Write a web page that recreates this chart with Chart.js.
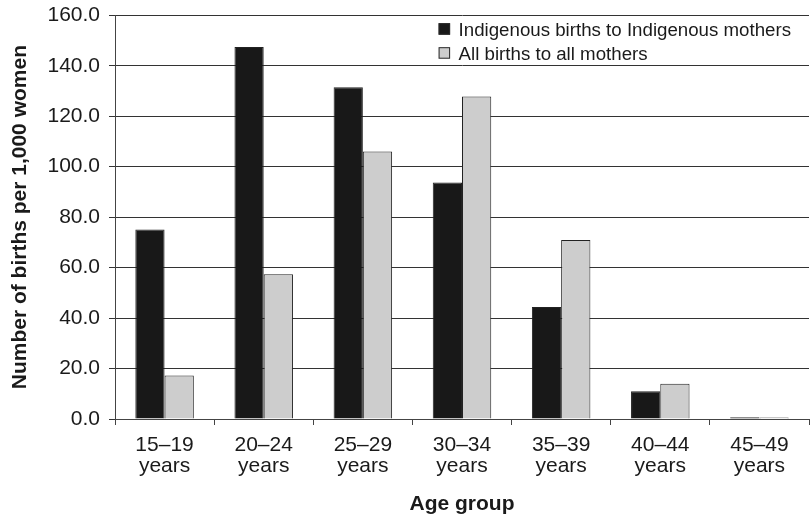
<!DOCTYPE html>
<html>
<head>
<meta charset="utf-8">
<script src="https://cdn.jsdelivr.net/npm/chart.js@4/dist/chart.umd.min.js"></script>
<style>
  html, body { margin: 0; padding: 0; background: #ffffff; }
  #wrap { width: 811px; height: 519px; position: relative; }
</style>
</head>
<body>
<div id="wrap"><canvas id="c" width="811" height="519"></canvas></div>
<script>
// ---- Data ----
const categories = [
  ['15\u201319', 'years'],
  ['20\u201324', 'years'],
  ['25\u201329', 'years'],
  ['30\u201334', 'years'],
  ['35\u201339', 'years'],
  ['40\u201344', 'years'],
  ['45\u201349', 'years']
];
const indigenousLabel = 'Indigenous births to Indigenous mothers';
const allLabel = 'All births to all mothers';
const indigenousRates = [75.1, 147.4, 131.5, 93.7, 44.4, 11.0, 0.7];
const allRates = [17.2, 57.4, 106.0, 127.8, 70.9, 14.0, 0.6];
const yTicks = [0, 20, 40, 60, 80, 100, 120, 140, 160];
const yTitle = 'Number of births per 1,000 women';
const xTitle = 'Age group';

const FONT = '"Liberation Sans", Arial, Helvetica, sans-serif';

const legendPlugin = {
  id: 'insideLegend',
  afterDraw(chart) {
    const ctx = chart.ctx;
    const area = chart.chartArea;
    const x0 = area.left + 323.6;
    const rows = [area.top + 20.4, area.top + 44.4];
    ctx.save();
    ctx.font = '18.7px ' + FONT;
    ctx.textBaseline = 'alphabetic';
    ctx.textAlign = 'left';
    chart.data.datasets.forEach((ds, i) => {
      const base = rows[i];
      ctx.fillStyle = ds.backgroundColor;
      ctx.fillRect(x0, base - 12.5, 11.5, 11.5);
      ctx.strokeStyle = '#2a2a2a';
      ctx.lineWidth = 1;
      ctx.strokeRect(x0 + 0.5, base - 12, 10.5, 10.5);
      ctx.fillStyle = '#1a1a1a';
      ctx.fillText(ds.label, x0 + 20, base);
    });
    ctx.restore();
  }
};

new Chart(document.getElementById('c'), {
  type: 'bar',
  data: {
    labels: categories,
    datasets: [
      {
        label: indigenousLabel,
        data: indigenousRates,
        backgroundColor: '#181818',
        borderColor: '#222222',
        borderWidth: 1,
        categoryPercentage: 0.59,
        barPercentage: 1.0
      },
      {
        label: allLabel,
        data: allRates,
        backgroundColor: '#cdcdcd',
        borderColor: '#222222',
        borderWidth: 1,
        categoryPercentage: 0.59,
        barPercentage: 1.0
      }
    ]
  },
  options: {
    responsive: false,
    animation: false,
    devicePixelRatio: 1,
    layout: { padding: { top: 15.3, right: 2, left: 0, bottom: 0 } },
    plugins: {
      legend: { display: false },
      tooltip: { enabled: false },
      title: { display: false }
    },
    scales: {
      x: {
        offset: true,
        grid: {
          display: true,
          offset: true,
          drawOnChartArea: false,
          drawTicks: true,
          tickLength: 6,
          color: '#444444',
          lineWidth: 1
        },
        border: { display: true, color: '#444444', width: 1 },
        ticks: {
          color: '#1a1a1a',
          font: { family: FONT, size: 21, lineHeight: 1.03 },
          padding: 9,
          maxRotation: 0,
          autoSkip: false
        },
        title: {
          display: true,
          text: xTitle,
          color: '#1a1a1a',
          font: { family: FONT, size: 21, weight: 'bold', lineHeight: 1.2 },
          padding: { top: 0, bottom: 2.5 }
        },
        afterFit(scale) {
          scale.height = 100;
          scale.paddingLeft = 0;
          scale.paddingRight = 0;
        }
      },
      y: {
        min: 0,
        max: 160,
        afterBuildTicks(scale) { scale.ticks = yTicks.map(v => ({ value: v })); },
        grid: {
          display: true,
          drawOnChartArea: true,
          drawTicks: true,
          tickLength: 6,
          color: '#333333',
          lineWidth: 1
        },
        border: { display: true, color: '#444444', width: 1 },
        ticks: {
          color: '#1a1a1a',
          font: { family: FONT, size: 21 },
          padding: 9,
          callback: (v) => Number(v).toFixed(1)
        },
        title: {
          display: true,
          text: yTitle,
          color: '#1a1a1a',
          font: { family: FONT, size: 21, weight: 'bold', lineHeight: 1.2 },
          padding: { top: 7.9, bottom: 0 }
        },
        afterFit(scale) {
          scale.width = 115;
          scale.paddingTop = 0;
          scale.paddingBottom = 0;
        }
      }
    }
  },
  plugins: [legendPlugin]
});
</script>
</body>
</html>
